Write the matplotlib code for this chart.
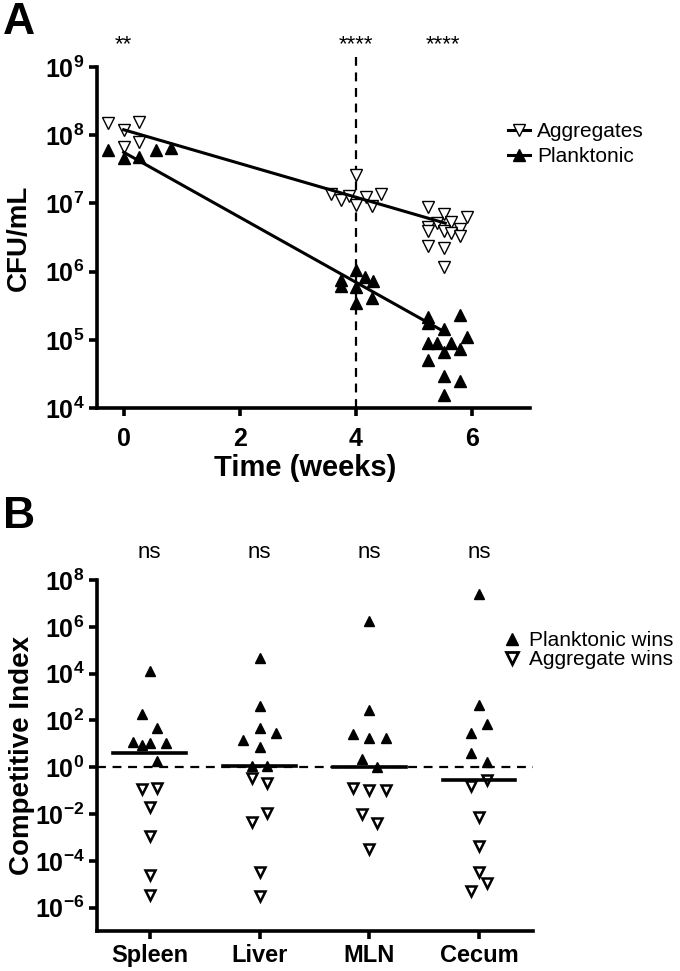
import numpy as np
import matplotlib
matplotlib.use('Agg')
import matplotlib.pyplot as plt
from matplotlib.lines import Line2D

plt.rcParams['font.family'] = ['Liberation Sans', 'DejaVu Sans']
plt.rcParams['mathtext.fontset'] = 'custom'
plt.rcParams['mathtext.rm'] = 'Liberation Sans'
plt.rcParams['mathtext.bf'] = 'Liberation Sans:bold'

# ---- Panel A data: time (weeks) and log10 CFU/mL ----
agg_t = [-0.27, 0.27, 0.0, 0.26, 0.0,
         3.58, 3.74, 3.88, 4.01, 4.17, 4.27, 4.43, 4.01,
         5.25, 5.52, 5.92, 5.25, 5.39, 5.64, 5.80, 5.25, 5.52, 5.64, 5.80, 5.25, 5.52, 5.52]
agg_log = [8.18, 8.19, 8.08, 7.90, 7.83,
           7.14, 7.05, 7.11, 6.98, 7.09, 6.96, 7.14, 7.42,
           6.94, 6.84, 6.80, 6.66, 6.71, 6.72, 6.63, 6.59, 6.59, 6.56, 6.52, 6.38, 6.34, 6.07]
plk_t = [-0.27, 0.0, 0.27, 0.55, 0.82,
         3.74, 3.74, 4.01, 4.15, 4.29, 4.01, 4.27, 4.01,
         5.25, 5.80, 5.25, 5.52, 5.92, 5.25, 5.39, 5.64, 5.52, 5.80, 5.25, 5.52, 5.80, 5.52]
plk_log = [7.78, 7.67, 7.68, 7.78, 7.81,
           5.88, 5.79, 6.02, 5.92, 5.86, 5.77, 5.61, 5.54,
           5.33, 5.36, 5.25, 5.16, 5.04, 4.95, 4.95, 4.95, 4.82, 4.87, 4.70, 4.47, 4.40, 4.19]
fit_t = [0.0, 5.54]
fit_agg_log = [8.08, 6.71]
fit_plk_log = [7.75, 5.11]
star_t = [0, 4, 5.5]
star_txt = ['**', '****', '****']
switch_t = 4

# ---- Panel B data: log10 competitive index and jitter per organ ----
organs = ['Spleen', 'Liver', 'MLN', 'Cecum']
spleen_log = [4.13, 2.26, 1.66, 1.06, 0.94, 1.02, 1.02, 0.26, -0.94, -0.89, -1.70, -2.94, -4.60, -5.45]
spleen_dx = [0, -0.07, 0.07, -0.15, -0.07, 0, 0.15, 0.07, -0.07, 0.07, 0, 0, 0, 0]
liver_log = [4.68, 2.60, 1.66, 1.45, 1.15, 0.85, 0.03, 0.05, -0.47, -0.68, -1.96, -2.34, -4.47, -5.49]
liver_dx = [0, 0, 0, 0.15, -0.15, 0, -0.07, 0.07, -0.07, 0.07, 0.07, -0.07, 0, 0]
mln_log = [6.26, 2.43, 1.40, 1.23, 1.23, 0.34, 0.02, -0.89, -0.98, -0.98, -2.0, -2.38, -3.49]
mln_dx = [0, 0, -0.15, 0, 0.15, -0.07, 0.07, -0.15, 0, 0.15, -0.07, 0.07, 0]
cecum_log = [7.40, 2.64, 1.83, 1.45, 0.60, 0.21, -0.81, -0.55, -2.13, -3.36, -4.47, -4.94, -5.28]
cecum_dx = [0, 0, 0.07, -0.07, -0.07, 0.07, -0.07, 0.07, 0, 0, 0, 0.07, -0.07]
groups_log = [spleen_log, liver_log, mln_log, cecum_log]
groups_dx = [spleen_dx, liver_dx, mln_dx, cecum_dx]

fig = plt.figure(figsize=(6.8, 9.71), dpi=100)
W, H = 680, 971
axA = fig.add_axes([97 / W, 1 - 408 / H, 433 / W, 341 / H])
axB = fig.add_axes([97 / W, 1 - 931 / H, 436 / W, 351 / H])


def style(ax):
    for s in ['top', 'right']:
        ax.spines[s].set_visible(False)
    for s in ['left', 'bottom']:
        ax.spines[s].set_linewidth(2.6)
    ax.tick_params(direction='out', length=6, width=2.6, labelsize=18, pad=3)
    ax.minorticks_off()


# ---- Panel A ----
axA.set_yscale('log')
axA.set_ylim(1e4, 1e9)
axA.set_xlim(-0.46, 7)
axA.axvline(switch_t, ymax=1.03, color='black', lw=1.6, ls=(0, (4, 3)), zorder=1, clip_on=False)
axA.plot(agg_t, 10 ** np.array(agg_log), 'v', ms=8, mfc='white', mec='black', mew=1.0,
         ls='none', zorder=2)
axA.plot(plk_t, 10 ** np.array(plk_log), '^', ms=8, mfc='black', mec='black', ls='none', zorder=2)
axA.plot(fit_t, 10 ** np.array(fit_agg_log), color='black', lw=2.2, zorder=3)
axA.plot(fit_t, 10 ** np.array(fit_plk_log), color='black', lw=2.2, zorder=3)
style(axA)
axA.tick_params(axis='x', pad=8)
axA.set_xticks([0, 2, 4, 6])
axA.set_xticklabels(['0', '2', '4', '6'], fontweight='bold')
ya = [10 ** k for k in range(4, 10)]
axA.set_yticks(ya)
axA.set_yticklabels([r'$\mathbf{10^{%d}}$' % k for k in range(4, 10)])
axA.minorticks_off()
axA.set_ylabel('CFU/mL', fontsize=20, fontweight='bold')
axA.yaxis.set_label_coords(-0.15, 0.5)
axA.set_xlabel('Time (weeks)', fontsize=21, fontweight='bold')
axA.xaxis.set_label_coords(0.48, -0.135)
for t, s in zip(star_t, star_txt):
    axA.text(t, 1.065, s, transform=axA.get_xaxis_transform(), ha='center', va='center',
             fontsize=16)
hA = [Line2D([], [], color='black', lw=2.2, marker='v', ms=8, mfc='white', mec='black', mew=1.0),
      Line2D([], [], color='black', lw=2.2, marker='^', ms=8, mfc='black', mec='black')]
fig.legend(hA, ['Aggregates', 'Planktonic'], loc='center left',
           bbox_to_anchor=(508 / W, 1 - 144 / H), frameon=False, fontsize=15,
           handlelength=1.05, handletextpad=0.35, labelspacing=0.3, borderpad=0,
           borderaxespad=0)

# ---- Panel B ----
axB.set_yscale('log')
axB.set_ylim(1e-7, 1e8)
axB.set_xlim(-0.48, 3.49)
axB.axhline(1, color='black', lw=1.6, ls=(0, (4, 3)), zorder=1)
for i, (vals, dx) in enumerate(zip(groups_log, groups_dx)):
    vals = np.array(vals)
    x = i + np.array(dx)
    up = vals >= 0
    axB.plot(x[up], 10 ** vals[up], '^', ms=7, mfc='black', mec='black', ls='none', zorder=2)
    axB.plot(x[~up], 10 ** vals[~up], 'v', ms=7, mfc='white', mec='black', mew=1.8,
             ls='none', zorder=2)
    axB.plot([i - 0.33, i + 0.33], [10 ** np.median(vals)] * 2, color='black', lw=2.6, zorder=3)
    axB.text(i, 1.077, 'ns', transform=axB.get_xaxis_transform(), ha='center', va='center',
             fontsize=16)
style(axB)
axB.set_xticks(range(len(organs)))
axB.set_xticklabels(organs, fontweight='bold', fontsize=17)
yb = list(range(-6, 9, 2))
axB.set_yticks([10.0 ** k for k in yb])
axB.set_yticklabels([r'$\mathbf{10^{%d}}$' % k for k in yb])
axB.minorticks_off()
axB.set_ylabel('Competitive Index', fontsize=20, fontweight='bold')
axB.yaxis.set_label_coords(-0.142, 0.5)
hB = [Line2D([], [], ls='none', marker='^', ms=9, mfc='black', mec='black'),
      Line2D([], [], ls='none', marker='v', ms=9, mfc='white', mec='black', mew=2.0)]
fig.legend(hB, ['Planktonic wins', 'Aggregate wins'], loc='center left',
           bbox_to_anchor=(503 / W, 1 - 650 / H), frameon=False, fontsize=15,
           handlelength=0.9, handletextpad=0.35, labelspacing=0.0, borderpad=0,
           borderaxespad=0)

fig.text(0.004, 1 - 22 / H, 'A', fontsize=32, fontweight='bold', va='center')
fig.text(0.004, 1 - 516 / H, 'B', fontsize=32, fontweight='bold', va='center')

fig.savefig('out.png', dpi=100)
